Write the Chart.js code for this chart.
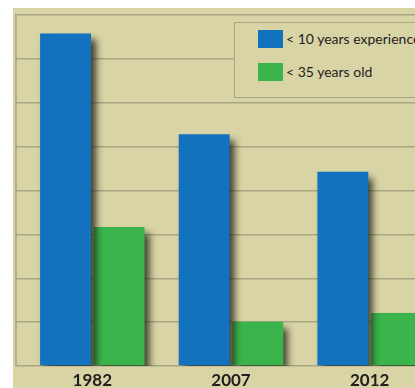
<!DOCTYPE html>
<html>
<head>
<meta charset="utf-8">
<script src="https://cdn.jsdelivr.net/npm/chart.js@4.4.1/dist/chart.umd.min.js"></script>
<style>
html, body { margin: 0; padding: 0; background: #fff; overflow: hidden; width: 415px; height: 388px; }
#wrap { position: absolute; left: 13px; top: 8px; width: 426px; height: 380px; background: #d8d4a6; }
#legend { position: absolute; left: 221px; top: 14px; width: 230px; height: 74px; border: 1px solid #a9a683;
  background: #d8d4a6; font-family: Lato, sans-serif; font-size: 14px; color: #1e1e1e; }
#legend .item { position: absolute; left: 23px; height: 18px; line-height: 18px; white-space: nowrap; }
#legend .sw { display: inline-block; width: 25px; height: 18px; vertical-align: top; margin-right: 3px; }
</style>
</head>
<body>
<div id="wrap">
  <canvas id="chart1" width="426" height="380"></canvas>
  <div id="legend"></div>
</div>
<script>
var years = ['1982', '2007', '2012'];
var seriesNames = ['< 10 years experience', '< 35 years old'];
var experience = [7.58, 5.28, 4.43];
var young = [3.17, 1.01, 1.21];
var colors = ['#1272bd', '#3bb54b'];

// legend box from the series
var legend = document.getElementById('legend');
seriesNames.forEach(function (name, i) {
    var item = document.createElement('div');
    item.className = 'item';
    item.style.top = (7 + i * 33) + 'px';
    item.innerHTML = '<span class="sw" style="background:' + colors[i] + '"></span>';
    item.appendChild(document.createTextNode(name));
    legend.appendChild(item);
});

var barShadow = {
    id: 'barShadow',
    beforeDraw: function (chart) {
        var c = chart.ctx, y = chart.scales.y;
        c.save();
        c.strokeStyle = '#a9a683';
        c.lineWidth = 1.5;
        c.beginPath();
        c.moveTo(y.left + 1, y.top);
        c.lineTo(y.left + 1, y.bottom);
        c.stroke();
        c.restore();
    },
    beforeDatasetsDraw: function (chart) {
        var c = chart.ctx;
        c.save();
        c.shadowColor = 'rgba(25,25,15,0.8)';
        c.shadowBlur = 7;
        c.shadowOffsetX = 5;
        c.shadowOffsetY = 6;
    },
    afterDatasetsDraw: function (chart) {
        chart.ctx.restore();
    }
};

var chart1 = document.getElementById('chart1').getContext('2d');
var myChart1 = new Chart(chart1, {
    type: 'bar',
    data: {
        labels: years,
        datasets: [{
            label: seriesNames[0],
            data: experience,
            backgroundColor: colors[0]
        }, {
            label: seriesNames[1],
            data: young,
            backgroundColor: colors[1]
        }]
    },
    options: {
        responsive: false,
        animation: false,
        categoryPercentage: 0.773,
        barPercentage: 0.95,
        layout: { padding: { left: 2, top: 7, right: 0, bottom: 0 } },
        scales: {
            x: {
                grid: { display: false },
                border: { display: false },
                ticks: { color: '#1e1e1e', padding: -4, font: { family: 'Lato', size: 17, weight: 'bold' } },
                afterFit: function (s) { s.height = 22; }
            },
            y: {
                min: 0,
                max: 8,
                ticks: { display: false, stepSize: 1 },
                grid: { color: '#a9a683', lineWidth: 1.5, tickLength: 8 },
                border: { display: false },
                afterFit: function (s) { s.width = 8; }
            }
        },
        plugins: {
            legend: { display: false },
            tooltip: { enabled: false }
        }
    },
    plugins: [barShadow]
});
</script>
</body>
</html>
